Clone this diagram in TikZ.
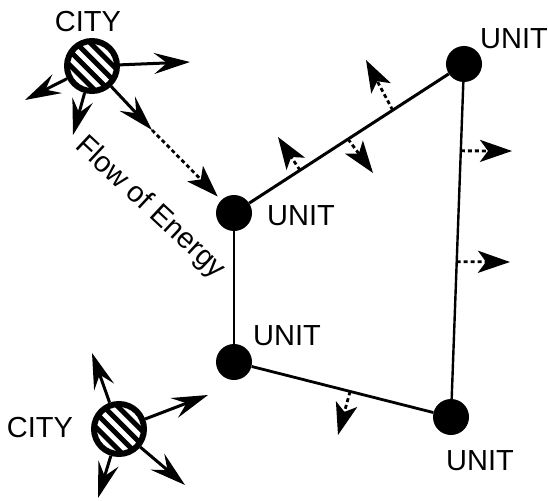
\documentclass[tikz,border=0pt]{standalone}
\usepackage{fontspec}
\setmainfont{Liberation Sans}
\usetikzlibrary{arrows.meta,calc}

\tikzset{
  lbl/.style={inner sep=0pt, font=\fontsize{29}{34}\selectfont},
  unitdot/.style={circle, fill=black, draw=none, minimum size=36pt, inner sep=0pt},
  citydisc/.style={circle, draw=black, line width=6pt, fill=white, minimum size=50pt, inner sep=0pt,
    path picture={
      \foreach \k in {-1.5,-0.5,0.5,1.5}
        \draw[line width=5pt]
          ($(path picture bounding box.center)+(\k*7.1-24,-\k*7.1-24)$) -- ++(48,48);
    }},
  longtip/.style={-{Stealth[length=36pt,width=21pt,inset=13pt]}},
  shorttip/.style={-{Stealth[length=32pt,width=22pt,inset=8pt]}},
  outflow/.style={longtip, line width=3pt},
  dotflow/.style={shorttip, line width=2.8pt, dash pattern=on 4pt off 3pt},
  link/.style={line width=2.6pt}
}

\begin{document}
\begin{tikzpicture}[x=1pt,y=-1pt]
\useasboundingbox (0,0) rectangle (548,500);

% units and the lines joining them
\node[unitdot] (uA) at (234,213) {};
\node[unitdot] (uB) at (464,64) {};
\node[unitdot] (uC) at (234,362) {};
\node[unitdot] (uD) at (451,417) {};

\draw[link, line width=3pt] (uA) -- (uB);
\draw[link, line width=2.4pt] (uB) -- (uD);
\draw[link, line width=2.2pt] (uA) -- (uC);
\draw[link, line width=2.8pt] (uC) -- (uD);

\node[lbl] (lA) at (301,216) {UNIT};
\node[lbl] (lB) at (514,39) {UNIT};
\node[lbl] (lC) at (287,336) {UNIT};
\node[lbl] (lD) at (480,461) {UNIT};

% cities
\node[citydisc] (cT) at (92,66) {};
\node[citydisc] (cB) at (119,429) {};
\node[lbl] (lcT) at (88,22) {CITY};
\node[lbl] (lcB) at (40,428) {CITY};

% energy leaving the upper city
\coordinate (t1) at (190,62);
\coordinate (t2) at (25,100);
\coordinate (t3) at (73,135);
\coordinate (m1) at (152,130);
\draw[outflow] (cT) -- (t1);
\draw[outflow] (cT) -- (t2);
\draw[outflow] (cT) -- (t3);
\draw[outflow] (cT) -- (m1);
\draw[dotflow, shorten >=5pt] (m1) -- (uA);

\node[lbl, rotate=-43] (flow) at (150,208) {Flow of Energy};

% energy leaving the lower city
\coordinate (b1) at (92,353);
\coordinate (b2) at (208,395);
\coordinate (b3) at (98,498);
\coordinate (b4) at (185,485);
\draw[outflow] (cB) -- (b1);
\draw[outflow] (cB) -- (b2);
\draw[outflow] (cB) -- (b3);
\draw[outflow] (cB) -- (b4);

% energy leaking from the lines
\coordinate (p1) at ($(uA)!0.69!(uB)$);
\coordinate (p2) at ($(uA)!0.496!(uB)$);
\coordinate (p3) at ($(uA)!0.287!(uB)$);
\coordinate (p4) at ($(uB)!0.246!(uD)$);
\coordinate (p5) at ($(uB)!0.56!(uD)$);
\coordinate (p6) at ($(uC)!0.535!(uD)$);
\coordinate (q1) at (366,60);
\coordinate (q2) at (373,173);
\coordinate (q3) at (278,137);
\coordinate (q4) at (512,151);
\coordinate (q5) at (510,262);
\coordinate (q6) at (338,435);
\draw[dotflow] (p1) -- (q1);
\draw[dotflow] (p2) -- (q2);
\draw[dotflow] (p3) -- (q3);
\draw[dotflow] (p4) -- (q4);
\draw[dotflow] (p5) -- (q5);
\draw[dotflow] (p6) -- (q6);
\end{tikzpicture}
\end{document}
